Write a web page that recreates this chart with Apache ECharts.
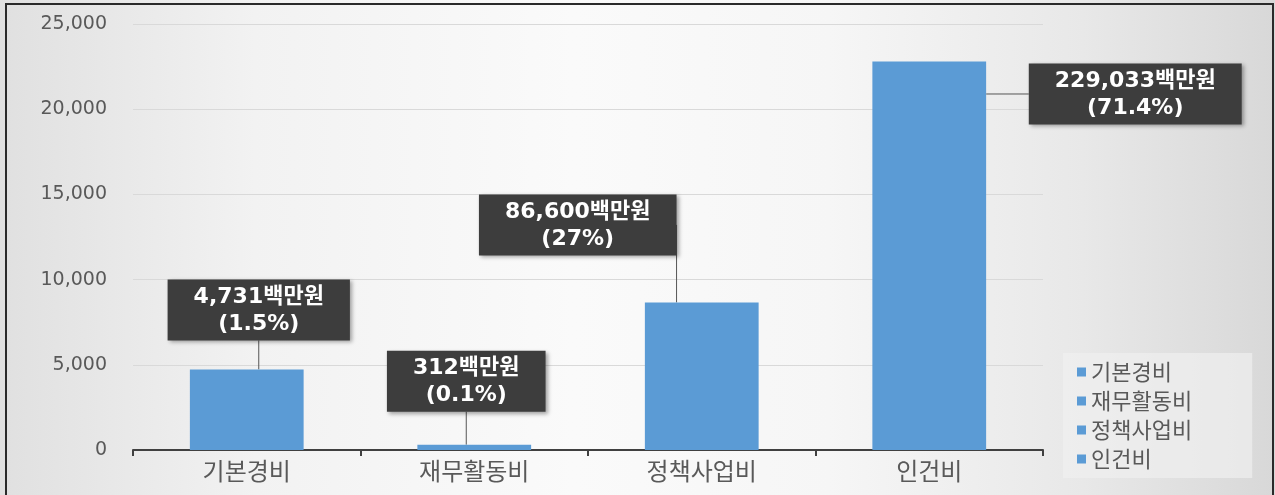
<!DOCTYPE html>
<html>
<head>
<meta charset="utf-8">
<script src="https://cdn.jsdelivr.net/npm/echarts@6/dist/echarts.min.js"></script>
<style>
html,body{margin:0;padding:0;width:1275px;height:495px;overflow:hidden;}
#wrap{position:absolute;left:0;top:0;width:1275px;height:495px;
  background:linear-gradient(to right,#e0e0e0 0%,#f2f2f2 20%,#fafafa 45%,#f6f6f6 65%,#e8e8e8 85%,#d8d8d8 100%);}
#chart{position:absolute;left:0;top:0;width:1275px;height:495px;}
#frame{position:absolute;left:5px;top:3px;width:1265px;height:500px;border:2px solid #2a2a2a;border-bottom:none;pointer-events:none;}
</style>
</head>
<body>
<div id="wrap"><div id="chart"></div><div id="frame"></div></div>
<script>
// ---- data ----
const categories = ['기본경비', '재무활동비', '정책사업비', '인건비'];
const values = [4731, 312, 8660, 22800];
const amountLabels = ['4,731백만원', '312백만원', '86,600백만원', '229,033백만원'];
const shareLabels = ['(1.5%)', '(0.1%)', '(27%)', '(71.4%)'];
const yTicks = [0, 5000, 10000, 15000, 20000, 25000];

// ---- label placement (style only) ----
const labelShift = [[12, -24], [-8, -28], [-124, -42], [206, 68]];

const barColor = '#5b9bd5';
const labelFont = "'DejaVu Sans', 'Noto Sans CJK KR', sans-serif";

const series = categories.map((cat, i) => ({
  name: cat,
  type: 'bar',
  stack: 'total',
  barWidth: '50%',
  itemStyle: { color: barColor },
  data: categories.map((c, j) => (j === i ? values[i] : null)),
  label: {
    show: true,
    position: 'top',
    distance: 5,
    formatter: () => amountLabels[i] + '\n' + shareLabels[i],
    color: '#ffffff',
    fontFamily: labelFont,
    fontWeight: 'bold',
    fontSize: 22,
    lineHeight: 27,
    align: 'center',
    backgroundColor: '#3d3d3d',
    padding: [4, 26, 3, 26],
    shadowColor: 'rgba(0,0,0,0.35)',
    shadowBlur: 4,
    shadowOffsetX: 2,
    shadowOffsetY: 2
  },
  labelLayout: { dx: labelShift[i][0], dy: labelShift[i][1] },
  labelLine: { show: true, length: 14, lineStyle: { color: '#555555', width: 1 } },
  emphasis: { disabled: true }
}));

const chart = echarts.init(document.getElementById('chart'), null, { renderer: 'canvas' });
chart.setOption({
  backgroundColor: 'transparent',
  animation: false,
  grid: { left: 133, right: 232, top: 24, bottom: 45 },
  legend: {
    data: categories,
    orient: 'vertical',
    left: 1063,
    top: 353,
    padding: [8, 60, 8, 14],
    backgroundColor: 'rgba(240,240,240,0.7)',
    icon: 'rect',
    itemWidth: 9,
    itemHeight: 9,
    itemGap: 7,
    textStyle: { color: '#595959', fontSize: 22, fontFamily: "'Noto Sans CJK KR', sans-serif" },
    selectedMode: false
  },
  xAxis: {
    type: 'category',
    data: categories,
    axisLine: { lineStyle: { color: '#404040', width: 2 } },
    axisTick: { show: true, alignWithLabel: false, length: 6, lineStyle: { color: '#404040', width: 2 } },
    axisLabel: { color: '#595959', fontSize: 24, margin: 9, fontFamily: "'Noto Sans CJK KR', sans-serif" }
  },
  yAxis: {
    type: 'value',
    min: yTicks[0],
    max: yTicks[yTicks.length - 1],
    interval: yTicks[1] - yTicks[0],
    axisLine: { show: false },
    axisTick: { show: false },
    splitLine: { lineStyle: { color: '#d9d9d9', width: 1 } },
    axisLabel: {
      color: '#595959', fontSize: 19, margin: 26,
      fontFamily: "'DejaVu Sans', sans-serif",
      formatter: v => v.toLocaleString('en-US')
    }
  },
  series: series
});
</script>
</body>
</html>
